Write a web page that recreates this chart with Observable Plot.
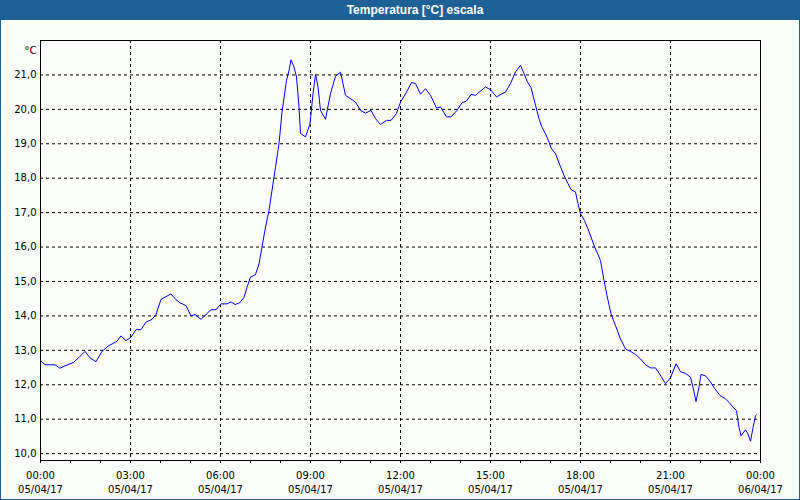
<!DOCTYPE html>
<html><head><meta charset="utf-8">
<script src="https://cdn.jsdelivr.net/npm/d3@7"></script>
<script src="https://cdn.jsdelivr.net/npm/@observablehq/plot@0.6"></script>
<style>
body{margin:0;background:#fff;}
#wrap{width:800px;height:500px;box-sizing:border-box;background:#fbfdfb;border:1px solid #1d6197;border-top:none;overflow:hidden}
#title{height:20px;background:#1d6197;color:#fff;font:bold 12px "Liberation Sans",Arial,sans-serif;line-height:20px;text-align:center;padding-left:30px;margin:0 -1px}
svg{display:block}
</style></head>
<body>
<div id="wrap"><div id="title">Temperatura [°C] escala</div><div id="chart"></div></div>
<script>
const times = ["00:00","00:09","00:29","00:39","00:49","01:06","01:16","01:29","01:39","01:51","02:03","02:16","02:33","02:41","02:51","03:01","03:11","03:21","03:31","03:43","03:51","04:01","04:11","04:21","04:31","04:39","04:51","05:01","05:09","05:21","05:31","05:41","05:51","06:01","06:13","06:21","06:29","06:38","06:47","06:53","07:00","07:10","07:17","07:23","07:30","07:37","07:43","07:50","07:57","08:03","08:12","08:17","08:21","08:27","08:32","08:37","08:40","08:50","08:59","09:05","09:10","09:15","09:20","09:30","09:40","09:50","10:00","10:10","10:23","10:30","10:40","10:50","11:01","11:10","11:20","11:32","11:41","11:52","12:00","12:12","12:22","12:30","12:40","12:50","13:00","13:12","13:20","13:32","13:41","13:53","14:03","14:12","14:21","14:30","14:40","14:50","15:00","15:12","15:20","15:30","15:40","15:50","16:00","16:07","16:13","16:21","16:30","16:37","16:42","16:50","16:57","17:01","17:10","17:19","17:27","17:35","17:41","17:50","17:55","18:00","18:08","18:17","18:27","18:33","18:40","18:47","18:53","19:01","19:10","19:20","19:30","19:40","19:50","20:00","20:10","20:20","20:30","20:41","20:50","21:00","21:11","21:20","21:30","21:40","21:45","21:51","21:57","22:01","22:10","22:19","22:28","22:39","22:50","22:57","23:05","23:12","23:17","23:21","23:30","23:35","23:40","23:45","23:50","23:52"];
const temps = [12.70,12.58,12.58,12.48,12.55,12.65,12.78,12.97,12.78,12.67,12.97,13.13,13.26,13.42,13.28,13.38,13.60,13.60,13.82,13.90,14.04,14.48,14.56,14.64,14.47,14.38,14.30,14.00,14.04,13.90,14.04,14.18,14.18,14.35,14.35,14.41,14.33,14.38,14.54,14.83,15.13,15.20,15.51,16.00,16.58,17.06,17.65,18.32,19.00,19.92,20.84,21.13,21.44,21.23,20.94,20.07,19.30,19.20,19.58,20.45,21.02,20.65,19.97,19.71,20.46,20.96,21.08,20.41,20.28,20.21,19.97,19.89,19.97,19.73,19.56,19.68,19.68,19.88,20.21,20.50,20.78,20.75,20.44,20.60,20.41,20.04,20.07,19.78,19.78,19.97,20.19,20.24,20.43,20.41,20.53,20.65,20.57,20.36,20.43,20.50,20.75,21.09,21.28,21.04,20.82,20.63,20.12,19.73,19.51,19.29,19.05,18.88,18.71,18.37,18.08,17.84,17.67,17.60,17.26,16.97,16.77,16.45,16.05,15.85,15.61,15.03,14.59,14.06,13.72,13.33,13.04,12.97,12.88,12.75,12.58,12.49,12.49,12.25,12.03,12.20,12.61,12.38,12.33,12.22,11.93,11.51,11.93,12.30,12.26,12.10,11.90,11.69,11.59,11.49,11.35,11.25,10.76,10.52,10.69,10.57,10.36,10.75,11.10,11.13];
const yTicks = [10,11,12,13,14,15,16,17,18,19,20,21];
const labelHours = [0,3,6,9,12,15,18,21,24];
const minorHours = d3.range(0,25);
const gridHours = [3,6,9,12,15,18,21];
const yDomain = [9.8,22];

const at = (h,m=0) => new Date(Date.UTC(2017,3,5,h,m));
const data = times.map((t,i) => { const [h,m] = t.split(":").map(Number); return {date: at(h,m), temp: temps[i]}; });

const chart = Plot.plot({
  width: 798, height: 479,
  marginTop: 20, marginBottom: 39, marginLeft: 39, marginRight: 39,
  style: {fontFamily: "DejaVu Sans, sans-serif", fontSize: "10px", color: "#000", background: "transparent"},
  x: {type: "utc", domain: [at(0), at(24)]},
  y: {domain: yDomain},
  marks: [
    Plot.gridY(yTicks, {stroke: "#000", strokeOpacity: 1, strokeDasharray: "3,3"}),
    Plot.gridX(gridHours.map(h => at(h)), {stroke: "#000", strokeOpacity: 1, strokeDasharray: "3,3"}),
    Plot.line(data, {x: "date", y: "temp", stroke: "#0000ff", strokeWidth: 1}),
    Plot.frame({stroke: "#000"}),
    Plot.axisY(yTicks, {tickSize: 0, tickPadding: 4, tickFormat: d => d.toFixed(1).replace(".", ","), label: null}),
    Plot.axisX(minorHours.map(h => at(h)), {tickSize: 3, tickFormat: () => "", label: null}),
    Plot.axisX(labelHours.map(h => at(h)), {tickSize: 0, tickPadding: 11, tickFormat: d3.utcFormat("%H:%M"), label: null}),
    Plot.axisX(labelHours.map(h => at(h)), {tickSize: 0, tickPadding: 25, tickFormat: d3.utcFormat("%d/%m/%y"), label: null}),
    Plot.text(["°C"], {frameAnchor: "top-left", text: d => d, dx: -4, dy: 6, textAnchor: "end"})
  ]
});
document.getElementById("chart").appendChild(chart);
</script>
</body></html>
